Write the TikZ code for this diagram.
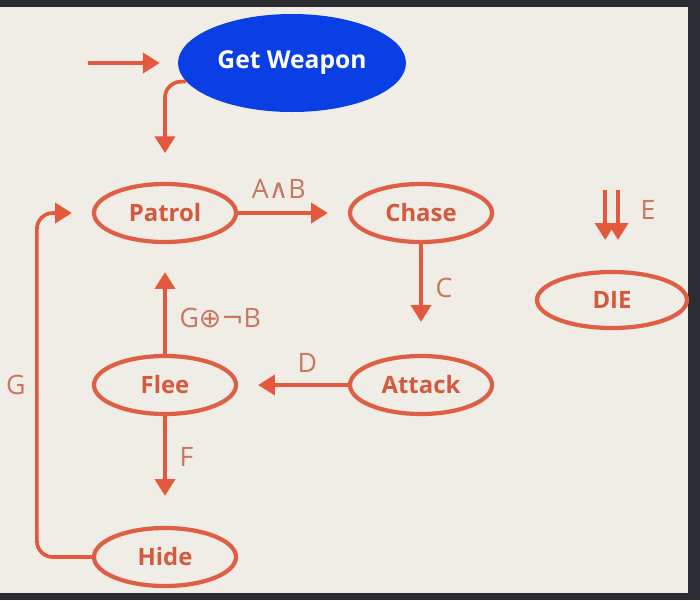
\documentclass[tikz,border=0pt]{standalone}
\usepackage{fontspec}
\setmainfont{Open Sans}
\newfontfamily\symfont{DejaVu Sans}
\usepackage{tikz}
\usetikzlibrary{shapes,arrows,positioning,arrows.meta}
\definecolor{arrowred}{HTML}{E4583E}
\definecolor{ringred}{HTML}{DE5F46}
\definecolor{textred}{HTML}{D55A3D}
\definecolor{labelred}{HTML}{C97560}
\definecolor{weaponblue}{HTML}{0B3FE6}
\definecolor{screen}{HTML}{EFEDE5}
\definecolor{bezel}{HTML}{2B2D33}
\tikzstyle{state} = [ellipse, draw=ringred, line width=3pt, minimum width=3.55cm, minimum height=1.45cm, inner sep=0pt, text=textred, font=\fontsize{17}{20}\selectfont\bfseries]
\tikzstyle{weaponstate} = [ellipse, fill=weaponblue, minimum width=5.7cm, minimum height=2.45cm, inner sep=0pt, text=white, font=\fontsize{17.5}{20}\selectfont\bfseries]
\tikzstyle{cond} = [text=labelred, font=\fontsize{19}{22}\selectfont]
\tikzstyle{line} = [draw=arrowred, line width=2.6pt, shorten >=0.6cm, -{Triangle[length=0.42cm,width=0.5cm]}]

\begin{document}
\begin{tikzpicture}[node distance=6.4cm,align=center]
	% screen and bezel
	\useasboundingbox (0,0) rectangle (17.5,-15);
	\fill[bezel] (0,0) rectangle (17.5,-15);
	\fill[screen] (0,-0.18) rectangle (17.2,-14.82);

	\node[state](patrol) at (4.125,-5.325){Patrol};
	\node[state, right of=patrol](chase){Chase};
	\node[state, below of=chase, node distance=4.3cm](attack){Attack};
	\node[state, left of=attack](flee){Flee};
	\node[state, below of=flee, node distance=4.3cm](hide){Hide};
	\node[state, minimum width=3.75cm, minimum height=1.4cm](die) at (15.3,-7.5){DIE};
	\node[weaponstate](weapon) at (7.3,-1.575){Get Weapon};

	\coordinate (entry) at ([xshift=-2.25cm]weapon.west);
	\coordinate (eleft) at ([xshift=-0.17cm]die.north);
	\coordinate (eright) at ([xshift=0.15cm]die.north);
	\coordinate (elefttop) at ([yshift=2cm]eleft);
	\coordinate (erighttop) at ([yshift=2cm]eright);

	\path[line, shorten >=0.45cm](entry)   -- (weapon.west);
	\path[line, rounded corners=0.4cm, shorten >=0.72cm](weapon.190) -| (patrol.north);
	\path[line, shorten >=0.5cm](patrol)   -- node[cond, above, pos=0.37, yshift=0.2cm]{A{\symfont ∧}B} (chase);
	\path[line, shorten >=0.8cm](chase)    -- node[cond, right, pos=0.4, xshift=0.2cm]{C} (attack);
	\path[line, shorten >=0.5cm](attack)   -- node[cond, above, pos=0.37, yshift=0.15cm]{D} (flee);
	\path[line, shorten >=0.7cm](flee)     -- node[cond, right, pos=0.33, xshift=0.2cm]{G{\symfont ⊕¬}B} (patrol);
	\path[line, shorten >=0.75cm](flee)    -- node[cond, right, pos=0.37, xshift=0.2cm]{F} (hide);
	\path[line, rounded corners=0.4cm, shorten >=0.5cm](hide.west) -- ++(-1.375,0) |- node[cond, left, pos=0.25, xshift=-0.12cm]{G} (patrol.west);
	\path[line, shorten >=0.75cm](elefttop) -- (eleft);
	\path[line, shorten >=0.75cm](erighttop) -- node[cond, right, pos=0.25, xshift=0.4cm]{E} (eright);
\end{tikzpicture}
\end{document}
